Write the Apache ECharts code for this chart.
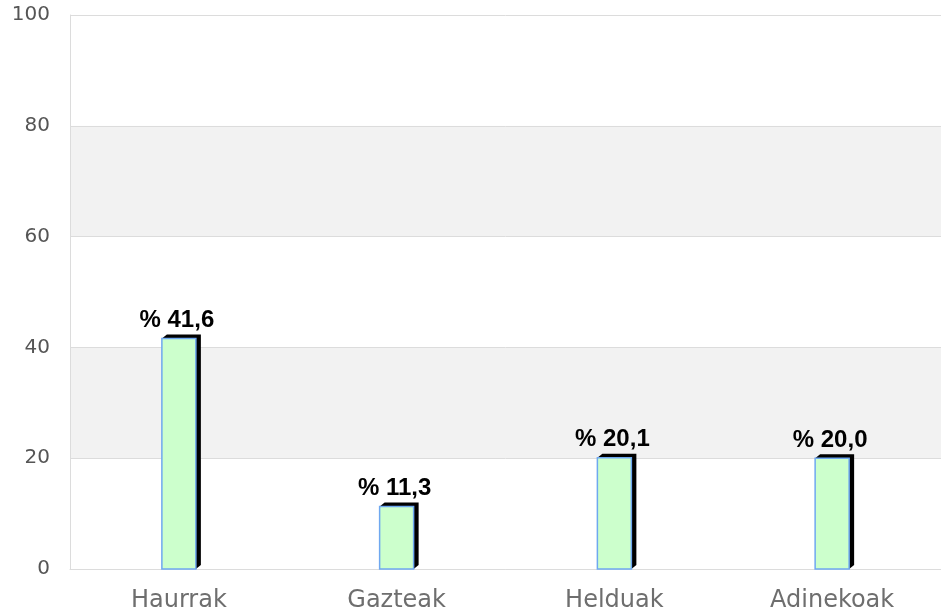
<!DOCTYPE html>
<html>
<head>
<meta charset="utf-8">
<script src="https://cdn.jsdelivr.net/npm/echarts@6/dist/echarts.min.js"></script>
<style>
  html, body { margin: 0; padding: 0; background: #fff; }
  #chart { width: 941px; height: 616px; }
</style>
</head>
<body>
<div id="chart"></div>
<script>
const categories = ['Haurrak', 'Gazteak', 'Helduak', 'Adinekoak'];
const values = [41.6, 11.3, 20.1, 20.0];
const yTicks = [0, 20, 40, 60, 80, 100];

const myChart = echarts.init(document.getElementById('chart'));

// bar with a black 3d side/top, like the old java charts
function renderBar(params, api) {
  const idx = api.value(0);
  const top = api.coord([idx, api.value(1)]);
  const base = api.coord([idx, 0]);
  const w = 34;
  const dx = 5, dy = 4;
  const x0 = top[0] - w / 2, x1 = top[0] + w / 2;
  const y0 = top[1], yb = base[1];
  return {
    type: 'group',
    children: [
      {
        type: 'polygon',
        shape: { points: [[x0, y0], [x0 + dx, y0 - dy], [x1 + dx, y0 - dy], [x1 + dx, yb - dy], [x1, yb]] },
        style: { fill: '#000' }
      },
      {
        type: 'rect',
        shape: { x: x0, y: y0, width: w, height: yb - y0 },
        style: { fill: '#ccffcc', stroke: '#6fa8f0', lineWidth: 1.5 }
      },
      {
        type: 'text',
        x: top[0] - 2,
        y: y0 - 18,
        style: {
          text: '% ' + api.value(1).toFixed(1).replace('.', ','),
          fill: '#000',
          font: 'bold 24px "Liberation Sans", Arial, sans-serif',
          align: 'center',
          verticalAlign: 'middle'
        }
      }
    ]
  };
}

const option = {
  animation: false,
  grid: { left: 70, right: 0, top: 15, bottom: 47 },
  xAxis: {
    type: 'category',
    data: categories,
    axisLine: { show: true, lineStyle: { color: '#dcdcdc' } },
    axisTick: { show: false },
    axisLabel: { color: '#6e6e6e', fontSize: 24, fontFamily: 'DejaVu Sans', margin: 20 }
  },
  yAxis: {
    type: 'value',
    min: yTicks[0],
    max: yTicks[yTicks.length - 1],
    interval: 20,
    axisLine: { show: true, lineStyle: { color: '#dcdcdc' } },
    axisTick: { show: false },
    axisLabel: { color: '#555', fontSize: 20, fontFamily: 'DejaVu Sans', margin: 20 },
    splitLine: { show: true, lineStyle: { color: '#dcdcdc' } },
    splitArea: { show: true, areaStyle: { color: ['#ffffff', '#f2f2f2'] } }
  },
  series: [
    {
      type: 'custom',
      renderItem: renderBar,
      data: values.map((v, i) => [i, v]),
      encode: { x: 0, y: 1 }
    }
  ]
};

myChart.setOption(option);
</script>
</body>
</html>
